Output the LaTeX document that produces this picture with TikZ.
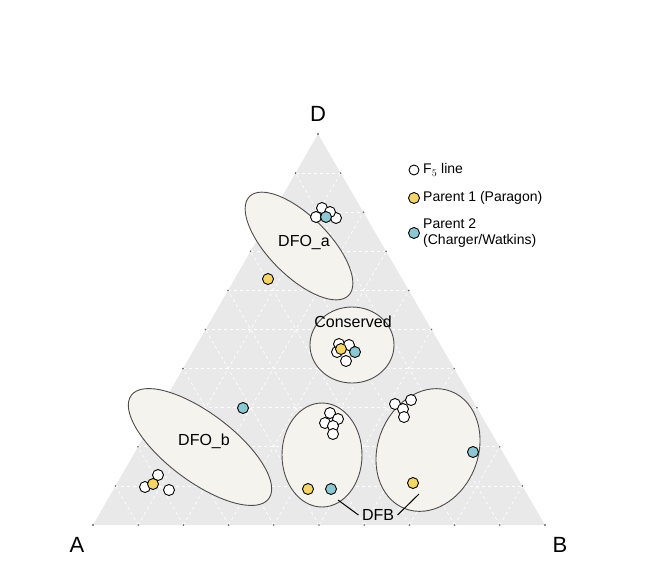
\documentclass[tikz,border=0pt]{standalone}
\usepackage{fontspec}
\setmainfont{Liberation Sans}
\usetikzlibrary{calc}
\definecolor{yel}{HTML}{F5D468}
\definecolor{blu}{HTML}{8CC8D4}
\definecolor{tri}{HTML}{E9E9E9}
\definecolor{ell}{HTML}{F4F3EE}
\tikzset{
  wd/.style={circle,draw=black,line width=0.9pt,fill=white,minimum size=11pt,inner sep=0pt},
  yd/.style={wd,fill=yel},
  bd/.style={wd,fill=blu},
  grp/.style={draw=black!70,line width=0.9pt,fill=ell},
  lab/.style={font=\fontsize{16}{18}\selectfont},
  vlab/.style={font=\fontsize{22}{24}\selectfont},
  leg/.style={font=\fontsize{14}{16}\selectfont,align=left,anchor=west,inner sep=1pt},
}
\begin{document}
\begin{tikzpicture}[x=1pt,y=-1pt]
\useasboundingbox (0,0) rectangle (650,568);
\coordinate (A) at (93,525);
\coordinate (B) at (545,525);
\coordinate (D) at (318,134);
\fill[tri] (A)--(B)--(D)--cycle;
\foreach \i in {1,...,9}{
  \draw[white,dashed,line width=0.7pt] ($(A)!\i/10!(B)$) -- ($(D)!\i/10!(B)$);
  \draw[white,dashed,line width=0.7pt] ($(A)!\i/10!(B)$) -- ($(A)!\i/10!(D)$);
  \draw[white,dashed,line width=0.7pt] ($(A)!\i/10!(D)$) -- ($(B)!\i/10!(D)$);
}
\foreach \i in {0,...,10}{
  \fill[black!60] ($(A)!\i/10!(B)$) circle (0.9);
  \fill[black!60] ($(A)!\i/10!(D)$) circle (0.9);
  \fill[black!60] ($(B)!\i/10!(D)$) circle (0.9);
}
\node[vlab] (lD) at (318,114) {D};
\node[vlab] (lA) at (77,545) {A};
\node[vlab] (lB) at (560,545) {B};
% ellipses
\draw[grp,rotate around={-45:(299,246)}] (299,246) ellipse (70 and 30);
\draw[grp] (352,345) ellipse (42 and 38);
\draw[grp,rotate around={-37:(200,447)}] (200,447) ellipse (86 and 34);
\draw[grp] (322,455) ellipse (40 and 52);
\draw[grp,rotate around={-22:(428,450)}] (428,450) ellipse (50 and 63);
% DFO_a
\node[wd] (a1) at (322,208) {};
\node[wd] (a2) at (316,217) {};
\node[wd] (a3) at (336,218) {};
\node[wd] (a4) at (330,212) {};
\node[bd] (a5) at (326,217) {};
\node[yd] (a6) at (268,279) {};
\node[lab] (la) at (304,242) {DFO\_a};
% Conserved
\node[lab] (lc) at (353,322) {Conserved};
\node[wd] (c1) at (346,361) {};
\node[wd] (c2) at (339,344) {};
\node[wd] (c3) at (349,345) {};
\node[wd] (c4) at (337,352) {};
\node[bd] (c5) at (355,352) {};
\node[yd] (c6) at (341,349) {};
% DFO_b
\node[bd] (b1) at (243,408) {};
\node[wd] (b2) at (158,475) {};
\node[wd] (b3) at (145,487) {};
\node[wd] (b4) at (169,490) {};
\node[yd] (b5) at (153,484) {};
\node[lab] (lb) at (204,441) {DFO\_b};
% middle DFB
\node[wd] (m1) at (330,413) {};
\node[wd] (m2) at (338,419) {};
\node[wd] (m3) at (325,423) {};
\node[wd] (m4) at (333,426) {};
\node[wd] (m5) at (333,434) {};
\node[yd] (m6) at (308,489) {};
\node[bd] (m7) at (331,489) {};
% right DFB
\node[wd] (r1) at (395,404) {};
\node[wd] (r2) at (411,400) {};
\node[wd] (r3) at (403,409) {};
\node[wd] (r4) at (404,417) {};
\node[bd] (r5) at (473,452) {};
\node[yd] (r6) at (413,483) {};
\node[lab] (lf) at (378,515) {DFB};
\coordinate (p1) at (338,500);
\coordinate (p2) at (419,494);
\draw[line width=1pt] (p1) -- (lf.west);
\draw[line width=1pt] (p2) -- (lf.east);
% legend
\node[wd,minimum size=10pt] (g1) at (414,170) {};
\node[leg] (t1) at (422,170) {F$_5$ line};
\node[yd] (g2) at (414,198) {};
\node[leg] (t2) at (422,198) {Parent 1 (Paragon)};
\node[bd] (g3) at (414,233) {};
\node[leg] (t3) at (422,233) {Parent 2\\(Charger/Watkins)};
\end{tikzpicture}
\end{document}
